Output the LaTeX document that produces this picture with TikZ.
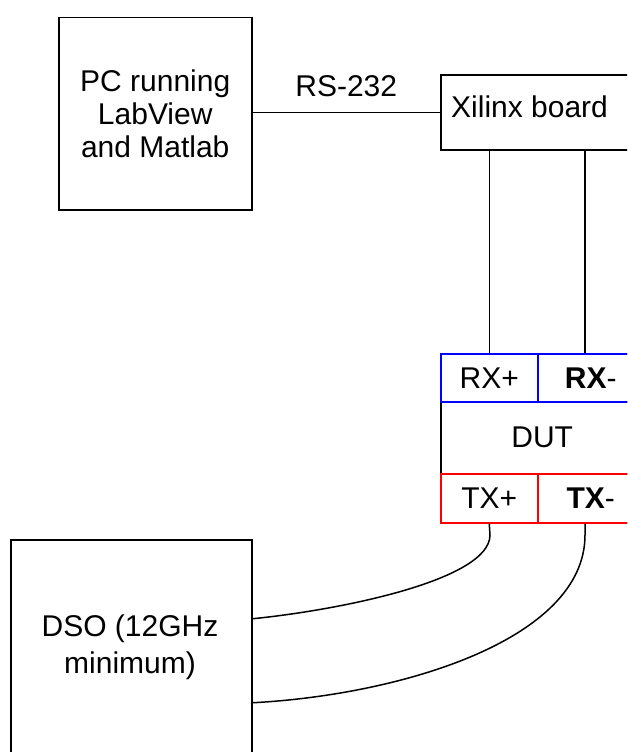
\documentclass[tikz,border=0pt]{standalone}
\usepackage{fontspec}
\setmainfont{Liberation Sans}
\usetikzlibrary{calc}
\begin{document}
\begin{tikzpicture}[x=1pt,y=-1pt,
  txt/.style={font=\fontsize{30}{33}\selectfont, inner sep=0pt, align=center},
  box/.style={draw=black, line width=1.5pt, rectangle, inner sep=0pt},
  cellrx/.style={draw=blue, line width=1.5pt, rectangle, inner sep=0pt, minimum width=97pt, minimum height=48pt, anchor=north west, font=\fontsize{30}{33}\selectfont},
  celltx/.style={draw=red, line width=1.5pt, rectangle, inner sep=0pt, minimum width=97pt, minimum height=49pt, anchor=north west, font=\fontsize{30}{33}\selectfont},
  wire/.style={draw=black, line width=1.5pt}
]
\useasboundingbox (0,0) rectangle (627,752);
\clip (0,0) rectangle (627,752);
\fill[white] (0,0) rectangle (627,752);

% PC box
\node[box, minimum width=193pt, minimum height=192pt, anchor=north west, txt, draw=black, line width=1.5pt] (pc) at (58,17)
  {PC running\\LabView\\and Matlab};

% Xilinx board
\node[box, minimum width=240pt, minimum height=75pt, anchor=north west] (xil) at (440,74) {};
\node[txt, anchor=base west] (xiltxt) at ([xshift=11pt,yshift=-5.5pt]xil.west) {Xilinx board};

% RS-232 link
\draw[wire] (pc.east |- xil.west) -- (xil.west)
  node[midway, txt, anchor=base, yshift=16pt] (rs) {RS-232};

% DUT
\node[box, minimum width=203pt, minimum height=72pt, anchor=north west, txt] (dut) at (440,401) {DUT};
\node[cellrx] (rxp) at (440,353) {RX+};
\node[cellrx, minimum width=106pt] (rxm) at (537,353) {\textbf{RX}-};
\node[celltx] (txp) at (440,473) {TX+};
\node[celltx, minimum width=106pt] (txm) at (537,473) {\textbf{TX}-};

% Xilinx to RX
\draw[wire] (rxp.north |- xil.south) -- (rxp.north);
\draw[wire] ($(xil.south -| rxm.north west)+(48,0)$) -- ($(rxm.north west)+(48,0)$);

% DSO
\node[box, minimum width=241pt, minimum height=241pt, anchor=north west] (dso) at (10,539) {};
\node[txt, font=\fontsize{30}{37}\selectfont] (dsotxt) at (130,647) {DSO (12GHz\\minimum)};

% TX to DSO
\draw[wire] ([yshift=41.5pt]dso.east) .. controls (340,610) and (490,580) .. (490,535) -- (txp.south);
\draw[wire] ([yshift=-42.5pt]dso.east) .. controls (400,695) and (585,640) .. (585,535) -- ($(txm.south west)+(48,0)$);
\end{tikzpicture}
\end{document}
